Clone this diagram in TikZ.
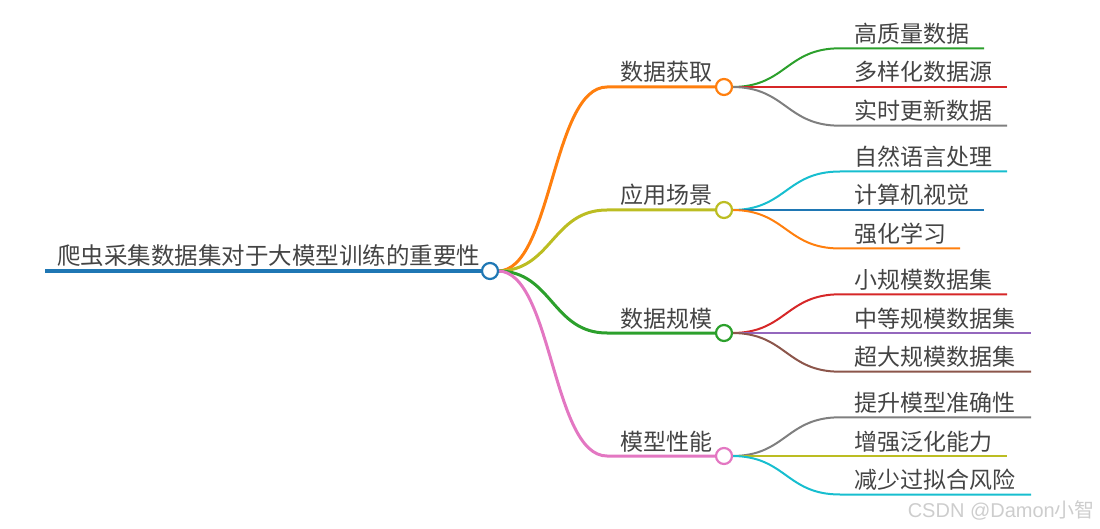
\documentclass[tikz,border=0pt]{standalone}
\usepackage{fontspec}
\setmainfont{Noto Sans CJK SC}
\newfontfamily\wmlatin{Liberation Sans}
\definecolor{tblue}{RGB}{31,119,180}
\definecolor{torange}{RGB}{255,127,14}
\definecolor{tgreen}{RGB}{44,160,44}
\definecolor{tred}{RGB}{214,39,40}
\definecolor{tpurple}{RGB}{148,103,189}
\definecolor{tbrown}{RGB}{140,86,75}
\definecolor{tpink}{RGB}{227,119,194}
\definecolor{tgray}{RGB}{127,127,127}
\definecolor{tolive}{RGB}{188,189,34}
\definecolor{tcyan}{RGB}{23,190,207}
\definecolor{txt}{RGB}{68,68,68}
\definecolor{wm}{RGB}{205,205,205}
\begin{document}
\begin{tikzpicture}[x=1pt,y=-1pt,
  lbl/.style={inner sep=0pt, text=txt, font=\fontsize{23}{23}\selectfont},
  rootlbl/.style={inner sep=0pt, text=txt, font=\fontsize{23.5}{24}\selectfont},
  dot/.style={circle, draw, fill=white, minimum size=16pt, inner sep=0pt, line width=2.2pt},
  lone/.style={line width=3pt},
  ltwo/.style={line width=2pt},
  lroot/.style={line width=4.5pt}]
\useasboundingbox (0,0) rectangle (1100,529);

% root
\coordinate (rs) at (45,271);
\node[rootlbl, anchor=base west] (rootlbl) at (57,265) {爬虫采集数据集对于大模型训练的重要性};
\draw[tblue, lroot] (rs) -- (490,271);

% level 1 coordinates
\coordinate (ra) at (498,271);
\coordinate (a0) at (607,87);
\coordinate (b0) at (607,210);
\coordinate (c0) at (607,333);
\coordinate (d0) at (607,456);
\draw[torange, lone] (ra) .. controls (552,271) and (552,87) .. (a0) -- (724,87);
\draw[tolive, lone] (ra) .. controls (552,271) and (552,210) .. (b0) -- (724,210);
\draw[tgreen, lone] (ra) .. controls (552,271) and (552,333) .. (c0) -- (724,333);
\draw[tpink, lone] (ra) .. controls (552,271) and (552,456) .. (d0) -- (724,456);

\node[lbl, anchor=base east] (alb) at (713,81) {数据获取};
\node[lbl, anchor=base east] (blb) at (713,204) {应用场景};
\node[lbl, anchor=base east] (clb) at (713,327) {数据规模};
\node[lbl, anchor=base east] (dlb) at (713,450) {模型性能};

% level 2 lines
\coordinate (as) at (732,87);
\coordinate (bs) at (732,210);
\coordinate (cs) at (732,333);
\coordinate (ds) at (732,456);

\coordinate (a1) at (840,48.3);  \coordinate (a1e) at (984,48.3);
\coordinate (a2) at (840,87);    \coordinate (a2e) at (1007,87);
\coordinate (a3) at (840,125.7); \coordinate (a3e) at (1007,125.7);
\draw[tgreen, ltwo] (as) .. controls (786,87) and (786,48.3) .. (a1) -- (a1e);
\draw[tred, ltwo] (as) -- (a2) -- (a2e);
\draw[tgray, ltwo] (as) .. controls (786,87) and (786,125.7) .. (a3) -- (a3e);

\coordinate (b1) at (840,171.5); \coordinate (b1e) at (1007,171.5);
\coordinate (b2) at (840,210);   \coordinate (b2e) at (984,210);
\coordinate (b3) at (840,248.5); \coordinate (b3e) at (960,248.5);
\draw[tcyan, ltwo] (bs) .. controls (786,210) and (786,171.5) .. (b1) -- (b1e);
\draw[tblue, ltwo] (bs) -- (b2) -- (b2e);
\draw[torange, ltwo] (bs) .. controls (786,210) and (786,248.5) .. (b3) -- (b3e);

\coordinate (c1) at (840,294.3); \coordinate (c1e) at (1007,294.3);
\coordinate (c2) at (840,333);   \coordinate (c2e) at (1031,333);
\coordinate (c3) at (840,371.7); \coordinate (c3e) at (1031,371.7);
\draw[tred, ltwo] (cs) .. controls (786,333) and (786,294.3) .. (c1) -- (c1e);
\draw[tpurple, ltwo] (cs) -- (c2) -- (c2e);
\draw[tbrown, ltwo] (cs) .. controls (786,333) and (786,371.7) .. (c3) -- (c3e);

\coordinate (d1) at (840,417.3); \coordinate (d1e) at (1031,417.3);
\coordinate (d2) at (840,456);   \coordinate (d2e) at (1007,456);
\coordinate (d3) at (840,494.5); \coordinate (d3e) at (1031,494.5);
\draw[tgray, ltwo] (ds) .. controls (786,456) and (786,417.3) .. (d1) -- (d1e);
\draw[tolive, ltwo] (ds) -- (d2) -- (d2e);
\draw[tcyan, ltwo] (ds) .. controls (786,456) and (786,494.5) .. (d3) -- (d3e);

% circles
\node[dot, draw=tblue] (root) at (490,271) {};
\node[dot, draw=torange] (A) at (724,87) {};
\node[dot, draw=tolive] (B) at (724,210) {};
\node[dot, draw=tgreen] (C) at (724,333) {};
\node[dot, draw=tpink] (D) at (724,456) {};

% level 2 labels
\node[lbl, anchor=base west] (ta1) at (854,42.3) {高质量数据};
\node[lbl, anchor=base west] (ta2) at (854,81) {多样化数据源};
\node[lbl, anchor=base west] (ta3) at (854,119.7) {实时更新数据};
\node[lbl, anchor=base west] (tb1) at (854,165.5) {自然语言处理};
\node[lbl, anchor=base west] (tb2) at (854,204) {计算机视觉};
\node[lbl, anchor=base west] (tb3) at (854,242.5) {强化学习};
\node[lbl, anchor=base west] (tc1) at (854,288.3) {小规模数据集};
\node[lbl, anchor=base west] (tc2) at (854,327) {中等规模数据集};
\node[lbl, anchor=base west] (tc3) at (854,365.7) {超大规模数据集};
\node[lbl, anchor=base west] (td1) at (854,411.3) {提升模型准确性};
\node[lbl, anchor=base west] (td2) at (854,450) {增强泛化能力};
\node[lbl, anchor=base west] (td3) at (854,488.5) {减少过拟合风险};

% watermark
\node[inner sep=0pt, anchor=base east, text=wm, font=\fontsize{20}{20}\selectfont] (wmk) at (1095,517) {{\wmlatin CSDN @Damon}小智};
\end{tikzpicture}
\end{document}
